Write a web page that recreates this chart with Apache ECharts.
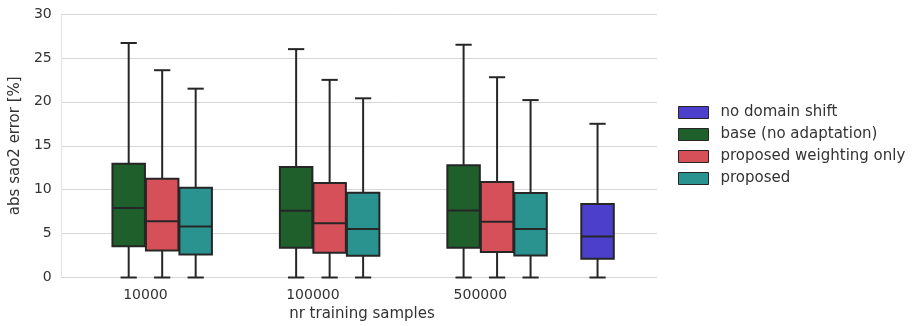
<!DOCTYPE html>
<html>
<head>
<meta charset="utf-8">
<script src="https://cdn.jsdelivr.net/npm/echarts@6/dist/echarts.min.js"></script>
<style>
html,body{margin:0;padding:0;background:#fff;}
#chart{width:912px;height:326px;}
</style>
</head>
<body>
<div id="chart"></div>
<script>
// Categories (x axis tick labels); the 4th group has no label
const categories = ['10000', '100000', '500000', ''];
const yTicks = [0, 5, 10, 15, 20, 25, 30];
const hueNames = ['no domain shift', 'base (no adaptation)', 'proposed weighting only', 'proposed'];

// Each entry: [categoryIndex, whiskerLow, q1, median, q3, whiskerHigh]
const noDomainShift = [
  [3, 0, 2.13, 4.67, 8.36, 17.5]
];
const baseNoAdaptation = [
  [0, 0, 3.57, 7.9, 12.96, 26.7],
  [1, 0, 3.39, 7.6, 12.58, 26.0],
  [2, 0, 3.39, 7.64, 12.77, 26.5]
];
const weightingOnly = [
  [0, 0, 3.08, 6.39, 11.25, 23.6],
  [1, 0, 2.82, 6.19, 10.75, 22.5],
  [2, 0, 2.89, 6.35, 10.87, 22.8]
];
const proposed = [
  [0, 0, 2.62, 5.82, 10.23, 21.5],
  [1, 0, 2.47, 5.51, 9.66, 20.4],
  [2, 0, 2.51, 5.51, 9.61, 20.2]
];

const hueData = [noDomainShift, baseNoAdaptation, weightingOnly, proposed];
const hueColors = ['#4b3fcc', '#1f5f2b', '#d6505a', '#2a9390'];
const edgeColor = '#262626';

function makeRender(hueIdx) {
  return function (params, api) {
    const cat = api.value(0);
    const lo = api.value(1), q1 = api.value(2), med = api.value(3), q3 = api.value(4), hi = api.value(5);
    const band = api.size([1, 0])[0];
    const slot = band * 0.8 / 4;
    const cx = api.coord([cat, 0])[0] + (hueIdx - 1.5) * slot;
    const pLo = api.coord([cat, lo])[1];
    const pQ1 = api.coord([cat, q1])[1];
    const pMed = api.coord([cat, med])[1];
    const pQ3 = api.coord([cat, q3])[1];
    const pHi = api.coord([cat, hi])[1];
    const w = slot - 1;
    const capW = w * 0.5;
    const ls = { stroke: edgeColor, lineWidth: 2 };
    return {
      type: 'group',
      children: [
        { type: 'line', shape: { x1: cx, y1: pQ3, x2: cx, y2: pHi }, style: ls },
        { type: 'line', shape: { x1: cx, y1: pQ1, x2: cx, y2: pLo }, style: ls },
        { type: 'line', shape: { x1: cx - capW / 2, y1: pHi, x2: cx + capW / 2, y2: pHi }, style: ls },
        { type: 'line', shape: { x1: cx - capW / 2, y1: pLo, x2: cx + capW / 2, y2: pLo }, style: ls },
        { type: 'rect', shape: { x: cx - w / 2, y: pQ3, width: w, height: pQ1 - pQ3 },
          style: { fill: hueColors[hueIdx], stroke: edgeColor, lineWidth: 2 } },
        { type: 'line', shape: { x1: cx - w / 2, y1: pMed, x2: cx + w / 2, y2: pMed }, style: ls }
      ]
    };
  };
}

const series = hueNames.map(function (name, i) {
  return {
    name: name,
    type: 'custom',
    renderItem: makeRender(i),
    data: hueData[i],
    encode: { x: 0, y: [1, 2, 3, 4, 5] },
    itemStyle: { color: hueColors[i] },
    z: 2
  };
});

const chart = echarts.init(document.getElementById('chart'), null, { renderer: 'canvas' });
chart.setOption({
  animation: false,
  backgroundColor: '#fff',
  textStyle: { fontFamily: 'DejaVu Sans' },
  grid: { left: 59.5, top: 14, width: 672, height: 263.5, containLabel: false },
  xAxis: {
    type: 'category',
    data: categories,
    boundaryGap: true,
    axisLine: { show: true, lineStyle: { color: '#d6d6d6', width: 1 } },
    axisTick: { show: false },
    axisLabel: { color: '#333', fontSize: 14, margin: 11, fontFamily: 'DejaVu Sans' },
    splitLine: { show: false }
  },
  yAxis: {
    type: 'value',
    min: yTicks[0],
    max: yTicks[yTicks.length - 1],
    interval: 5,
    name: 'abs sao2 error [%]',
    nameLocation: 'middle',
    nameGap: 30,
    nameTextStyle: { color: '#333', fontSize: 15, fontFamily: 'DejaVu Sans' },
    axisLine: { show: true, lineStyle: { color: '#e4e4e4', width: 1 } },
    axisTick: { show: false },
    axisLabel: { color: '#333', fontSize: 14, margin: 10, fontFamily: 'DejaVu Sans' },
    splitLine: { show: true, lineStyle: { color: '#d6d6d6', width: 1 } }
  },
  legend: {
    orient: 'vertical',
    left: 673,
    top: 100,
    z: 20,
    itemWidth: 30,
    itemHeight: 12,
    itemGap: 7,
    icon: 'rect',
    textStyle: { color: '#333', fontSize: 15, fontFamily: 'DejaVu Sans', padding: [0, 0, 0, 7] },
    data: hueNames.map(function (n, i) {
      return { name: n, itemStyle: { color: hueColors[i], borderColor: edgeColor, borderWidth: 1 } };
    })
  },
  graphic: [
    { type: 'rect', z: 10, shape: { x: 657, y: 0, width: 260, height: 326 }, style: { fill: '#fff' } },
    { type: 'text', z: 10, x: 362, y: 314,
      style: { text: 'nr training samples', fill: '#333', font: '15px "DejaVu Sans"', textAlign: 'center', textVerticalAlign: 'middle' } }
  ],
  series: series
});
</script>
</body>
</html>
